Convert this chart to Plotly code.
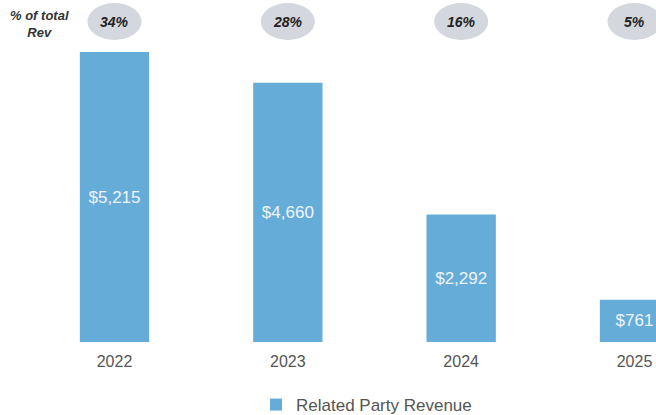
import plotly.graph_objects as go

years = ["2022", "2023", "2024", "2025"]
revenue = [5215, 4660, 2292, 761]
pct_of_total = ["34%", "28%", "16%", "5%"]
bar_labels = ["$5,215", "$4,660", "$2,292", "$761"]

W, H = 656, 415
plot_bottom_px = 342
BAR_COLOR = "#66acd9"

fig = go.Figure()
fig.add_trace(go.Bar(
    x=list(range(len(years))), y=revenue,
    name="Related Party Revenue",
    marker=dict(color=BAR_COLOR, line=dict(width=0)),
    width=0.4,
    text=bar_labels, textposition="inside", insidetextanchor="middle",
    textfont=dict(family="Liberation Sans, Arial", size=17, color="#eef4fa"),
    cliponaxis=True,
))

shapes = []
annotations = []
for i, p in enumerate(pct_of_total):
    shapes.append(dict(type="circle", xref="x", yref="paper",
                       x0=i - 0.156, x1=i + 0.156,
                       y0=(plot_bottom_px - 40) / plot_bottom_px,
                       y1=(plot_bottom_px - 3) / plot_bottom_px,
                       fillcolor="#d4d7dd", line=dict(width=0), layer="above"))
    annotations.append(dict(x=i, xref="x", y=(plot_bottom_px - 21.5) / plot_bottom_px,
                            yref="paper", text="<b><i>%s</i></b>" % p, showarrow=False,
                            font=dict(family="Liberation Sans, Arial", size=14, color="#222222"),
                            xanchor="center", yanchor="middle"))

annotations.append(dict(x=39 / W, xref="paper", y=(plot_bottom_px - 24) / plot_bottom_px,
                        yref="paper", text="<b><i>% of total<br>Rev</i></b>", showarrow=False,
                        align="center",
                        font=dict(family="Liberation Sans, Arial", size=13, color="#333333"),
                        xanchor="center", yanchor="middle"))

fig.update_layout(
    width=W, height=H,
    margin=dict(l=0, r=0, t=0, b=H - plot_bottom_px, autoexpand=False),
    paper_bgcolor="white", plot_bgcolor="white",
    xaxis=dict(range=[-0.6606, 3.124], tickmode="array",
               tickvals=list(range(len(years))), ticktext=years,
               showgrid=False, zeroline=False, showline=False, ticks="",
               ticklabelstandoff=8, automargin=False,
               tickfont=dict(family="Liberation Sans, Arial", size=16, color="#555555")),
    yaxis=dict(range=[0, 6150], visible=False, showgrid=False, automargin=False),
    showlegend=True,
    legend=dict(orientation="h", x=256 / W, xanchor="left",
                y=(plot_bottom_px - 405) / plot_bottom_px, yanchor="middle",
                font=dict(family="Liberation Sans, Arial", size=17, color="#555555"),
                itemwidth=30),
    shapes=shapes, annotations=annotations,
)

fig.write_html("out.html")
